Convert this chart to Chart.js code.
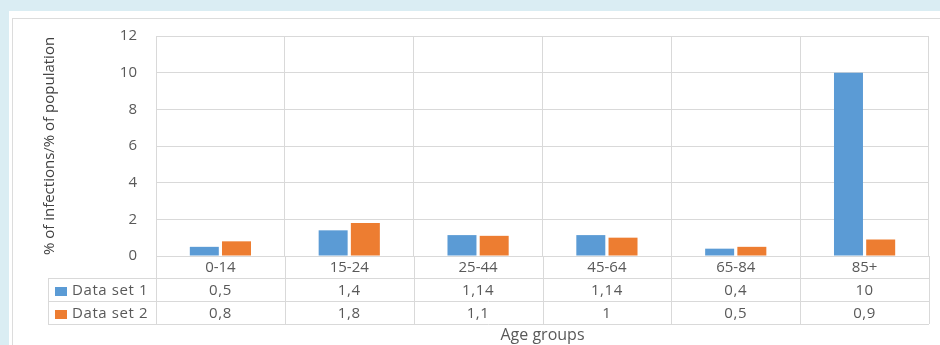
<!DOCTYPE html>
<html lang="en">
<head>
    <meta charset="UTF-8">
    <title>Infections by age group</title>
    <script src="https://cdn.jsdelivr.net/npm/chart.js"></script>
    <style>
        body {
            margin: 0;
            background: #daedf3;
            width: 940px;
            height: 345px;
            overflow: hidden;
            position: relative;
            font-family: 'Open Sans', sans-serif;
        }
        #panel {
            position: absolute;
            left: 9px;
            top: 11px;
            width: 940px;
            height: 340px;
            background: #fff;
        }
        #frame {
            position: absolute;
            left: 3px;
            top: 7px;
            width: 940px;
            height: 340px;
            border-left: 1px solid #dcdcdc;
            border-top: 1px solid #dcdcdc;
        }
        #chart {
            position: absolute;
            left: 0;
            top: 0;
        }
    </style>
</head>
<body>
    <div id="panel"><div id="frame"></div></div>
    <canvas id="chart" width="940" height="345"></canvas>

    <script>
        const categories = ['0-14', '15-24', '25-44', '45-64', '65-84', '85+'];
        const dataSet1 = [0.5, 1.4, 1.14, 1.14, 0.4, 10];
        const dataSet2 = [0.8, 1.8, 1.1, 1, 0.5, 0.9];
        const seriesNames = ['Data set 1', 'Data set 2'];
        const seriesColors = ['#5b9bd5', '#ed7d31'];
        const yMax = 12;
        const yStep = 2;

        const gridColor = '#d9d9d9';
        const textColor = '#595959';
        const fontFamily = "'Open Sans', sans-serif";

        // comma as decimal separator, like the source table
        function fmt(v) {
            return String(v).replace('.', ',');
        }

        // data table under the x axis (legend keys + values)
        const dataTable = {
            id: 'dataTable',
            afterDraw(chart) {
                const ctx = chart.ctx;
                const area = chart.chartArea;
                const x = chart.scales.x;
                const rows = [area.bottom, area.bottom + 22, area.bottom + 45, area.bottom + 68];
                const tableLeft = 48;

                ctx.save();
                ctx.strokeStyle = gridColor;
                ctx.lineWidth = 1;
                ctx.beginPath();
                // column borders below the plot
                for (let i = 0; i <= categories.length; i++) {
                    const xb = Math.round(x.getPixelForValue(i - 0.5)) + 0.5;
                    ctx.moveTo(xb, rows[0]);
                    ctx.lineTo(xb, rows[3]);
                }
                // row borders
                for (let r = 1; r < rows.length; r++) {
                    const yb = Math.round(rows[r]) + 0.5;
                    ctx.moveTo(tableLeft, yb);
                    ctx.lineTo(area.right, yb);
                }
                ctx.moveTo(tableLeft + 0.5, rows[1]);
                ctx.lineTo(tableLeft + 0.5, rows[3]);
                ctx.stroke();

                const series = [dataSet1, dataSet2];
                ctx.font = '15px ' + fontFamily;
                ctx.letterSpacing = '0.6px';
                ctx.fillStyle = textColor;
                ctx.textBaseline = 'middle';
                series.forEach((values, s) => {
                    const yc = (rows[s + 1] + rows[s + 2]) / 2 + 1;
                    ctx.fillStyle = seriesColors[s];
                    ctx.fillRect(55, Math.round(yc - 4), 12, 9);
                    ctx.fillStyle = textColor;
                    ctx.textAlign = 'left';
                    ctx.fillText(seriesNames[s], 72, yc);
                    ctx.textAlign = 'center';
                    values.forEach((v, i) => {
                        ctx.fillText(fmt(v), x.getPixelForValue(i), yc);
                    });
                });
                ctx.restore();
            }
        };

        new Chart(document.getElementById('chart'), {
            type: 'bar',
            data: {
                labels: categories,
                datasets: [
                    {
                        label: seriesNames[0],
                        data: dataSet1,
                        backgroundColor: seriesColors[0],
                        categoryPercentage: 0.5,
                        barPercentage: 0.9
                    },
                    {
                        label: seriesNames[1],
                        data: dataSet2,
                        backgroundColor: seriesColors[1],
                        categoryPercentage: 0.5,
                        barPercentage: 0.9
                    }
                ]
            },
            options: {
                responsive: false,
                animation: false,
                layout: {
                    padding: { left: 41, top: 36, right: 11, bottom: 0 }
                },
                plugins: {
                    legend: { display: false },
                    tooltip: { enabled: false }
                },
                scales: {
                    x: {
                        grid: { color: gridColor, drawTicks: false, offset: true },
                        border: { color: gridColor },
                        ticks: {
                            color: textColor,
                            padding: 3,
                            font: { family: fontFamily, size: 15 }
                        },
                        title: {
                            display: true,
                            text: 'Age groups',
                            color: textColor,
                            padding: 0,
                            font: { family: fontFamily, size: 16 }
                        },
                        afterFit(scale) {
                            scale.height = 89;
                        }
                    },
                    y: {
                        min: 0,
                        max: yMax,
                        grid: { color: gridColor, drawTicks: false },
                        border: { display: false },
                        ticks: {
                            stepSize: yStep,
                            color: textColor,
                            padding: 19,
                            font: { family: fontFamily, size: 15 }
                        },
                        title: {
                            display: true,
                            text: '% of infections/% of population',
                            color: '#404040',
                            padding: 0,
                            font: { family: fontFamily, size: 15 }
                        },
                        afterFit(scale) {
                            scale.width = 115;
                        }
                    }
                }
            },
            plugins: [dataTable]
        });
    </script>
</body>
</html>
